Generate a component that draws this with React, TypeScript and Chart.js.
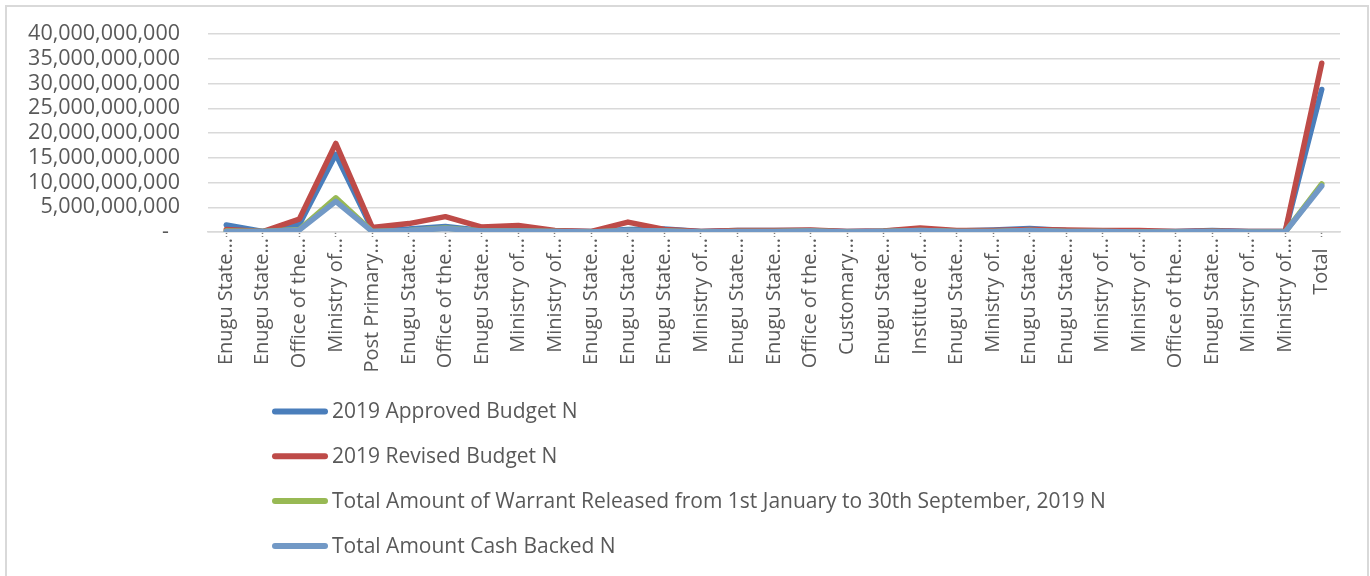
import React, { useEffect, useRef } from "react";
import { Chart, registerables } from "chart.js";

Chart.register(...registerables);

const categories: string[] = [
  "Enugu State…", "Enugu State…", "Office of the…", "Ministry of…", "Post Primary…",
  "Enugu State…", "Office of the…", "Enugu State…", "Ministry of…", "Ministry of…",
  "Enugu State…", "Enugu State…", "Enugu State…", "Ministry of…", "Enugu State…",
  "Enugu State…", "Office of the…", "Customary…", "Enugu State…", "Institute of…",
  "Enugu State…", "Ministry of…", "Enugu State…", "Enugu State…", "Ministry of…",
  "Ministry of…", "Office of the…", "Enugu State…", "Ministry of…", "Ministry of…",
  "Total  ",
];

const approvedBudget: number[] = [
  1400000000, 100000000, 1500000000, 15700000000, 500000000,
  600000000, 1100000000, 300000000, 400000000, 200000000,
  100000000, 500000000, 600000000, 100000000, 300000000,
  300000000, 300000000, 100000000, 200000000, 500000000,
  200000000, 400000000, 700000000, 300000000, 200000000,
  100000000, 100000000, 300000000, 100000000, 100000000,
  28800000000,
];

const revisedBudget: number[] = [
  500000000, 100000000, 2600000000, 17900000000, 900000000,
  1700000000, 3100000000, 1000000000, 1300000000, 300000000,
  100000000, 2000000000, 500000000, 100000000, 300000000,
  300000000, 400000000, 100000000, 200000000, 800000000,
  300000000, 300000000, 500000000, 400000000, 300000000,
  300000000, 100000000, 200000000, 100000000, 100000000,
  34100000000,
];

const warrantReleased: number[] = [
  200000000, 100000000, 500000000, 6900000000, 100000000,
  300000000, 800000000, 200000000, 200000000, 100000000,
  0, 300000000, 200000000, 0, 100000000,
  100000000, 200000000, 0, 100000000, 300000000,
  100000000, 100000000, 300000000, 100000000, 100000000,
  0, 0, 100000000, 0, 0,
  9700000000,
];

const cashBacked: number[] = [
  100000000, 100000000, 400000000, 6200000000, 100000000,
  300000000, 700000000, 200000000, 200000000, 100000000,
  0, 300000000, 200000000, 0, 100000000,
  100000000, 200000000, 0, 100000000, 300000000,
  100000000, 100000000, 300000000, 100000000, 100000000,
  0, 0, 100000000, 0, 0,
  9300000000,
];

const seriesNames: string[] = [
  "2019 Approved Budget N",
  "2019 Revised Budget N",
  "Total Amount of Warrant Released from 1st January to 30th September, 2019 N",
  "Total Amount Cash Backed N",
];

const seriesColors: string[] = ["#4A7EBB", "#BE4B48", "#98B954", "#7299C6"];

const FONT = "'Open Sans', 'Noto Sans', sans-serif";
const TEXT_COLOR = "#595959";

const legendPlugin = {
  id: "excelLegend",
  afterDraw(chart: any) {
    const ctx = chart.ctx as CanvasRenderingContext2D;
    ctx.save();
    ctx.font = `21px ${FONT}`;
    ctx.textBaseline = "middle";
    ctx.textAlign = "left";
    chart.data.datasets.forEach((ds: any, i: number) => {
      const y = 411.5 + i * 44.8;
      ctx.strokeStyle = ds.borderColor;
      ctx.lineWidth = 6;
      ctx.lineCap = "round";
      ctx.beginPath();
      ctx.moveTo(275, y);
      ctx.lineTo(325, y);
      ctx.stroke();
      ctx.fillStyle = TEXT_COLOR;
      ctx.fillText(ds.label, 332, y + 1);
    });
    ctx.restore();
  },
};

function formatTick(v: number): string {
  if (v === 0) return "-  ";
  return Math.round(v).toLocaleString("en-US");
}

export default function App() {
  const canvasRef = useRef<HTMLCanvasElement | null>(null);

  useEffect(() => {
    if (!canvasRef.current) return;
    const values = [approvedBudget, revisedBudget, warrantReleased, cashBacked];
    const chart = new Chart(canvasRef.current, {
      type: "line",
      data: {
        labels: categories,
        datasets: values.map((d, i) => ({
          label: seriesNames[i],
          data: d,
          borderColor: seriesColors[i],
          backgroundColor: seriesColors[i],
          borderWidth: 5.5,
          pointRadius: 0,
          pointHoverRadius: 0,
          tension: 0,
          fill: false,
          borderJoinStyle: "round" as const,
          borderCapStyle: "round" as const,
          order: 4 - i,
        })),
      },
      options: {
        responsive: false,
        animation: false,
        events: [],
        layout: { padding: { left: 8, top: 34, right: 30, bottom: 194 } },
        plugins: {
          legend: { display: false },
          tooltip: { enabled: false },
        },
        scales: {
          x: {
            type: "category",
            offset: true,
            afterFit: (s: any) => {
              s.height = 150;
            },
            grid: {
              offset: false,
              drawOnChartArea: false,
              drawTicks: true,
              tickLength: 5,
              tickColor: "#7f7f7f",
              tickWidth: 1.5,
              tickBorderDash: [1.5, 2],
            },
            border: { display: true, color: "#d9d9d9", width: 1.5 },
            ticks: {
              autoSkip: false,
              minRotation: 90,
              maxRotation: 90,
              padding: 1,
              color: TEXT_COLOR,
              font: { family: FONT, size: 20 },
            },
          },
          y: {
            min: 0,
            max: 40000000000,
            afterFit: (s: any) => {
              s.width = 200;
            },
            grid: {
              color: "#d9d9d9",
              lineWidth: 1.5,
              drawTicks: true,
              tickLength: 25,
              tickColor: "rgba(0,0,0,0)",
            },
            border: { display: false },
            ticks: {
              stepSize: 5000000000,
              autoSkip: false,
              padding: 3,
              color: TEXT_COLOR,
              font: { family: FONT, size: 21.5 },
              callback: (v: any) => formatTick(Number(v)),
            },
          },
        },
      },
      plugins: [legendPlugin],
    });
    return () => chart.destroy();
  }, []);

  return (
    <div
      style={{
        position: "absolute",
        left: 0,
        top: 0,
        width: 1370,
        height: 576,
        overflow: "hidden",
        background: "#ffffff",
      }}
    >
      <div
        style={{
          position: "absolute",
          left: 5,
          top: 5,
          width: 1364,
          height: 640,
          border: "2px solid #d9d9d9",
          boxSizing: "border-box",
        }}
      />
      <canvas
        ref={canvasRef}
        width={1370}
        height={576}
        style={{ position: "absolute", left: 0, top: 0, width: 1370, height: 576 }}
      />
    </div>
  );
}
